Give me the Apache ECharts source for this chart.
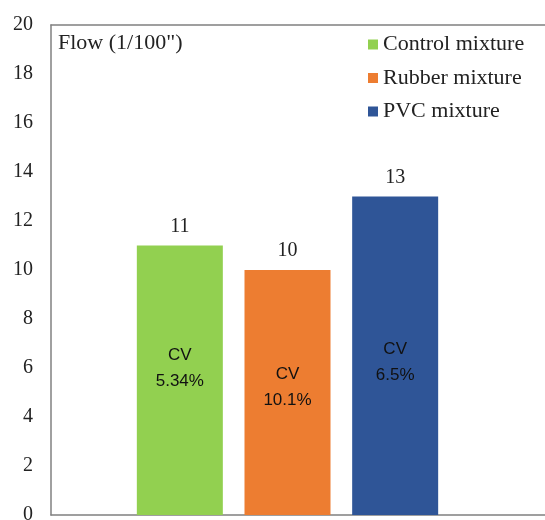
<!DOCTYPE html>
<html>
<head>
<meta charset="utf-8">
<script src="https://cdn.jsdelivr.net/npm/echarts@6/dist/echarts.min.js"></script>
<style>html,body{margin:0;padding:0;background:#fff}#c{width:545px;height:520px}</style>
</head>
<body>
<div id="c"></div>
<script>
var categories = ['Control mixture', 'Rubber mixture', 'PVC mixture'];
var flowValues = [11, 10, 13];
var cvValues = ['5.34%', '10.1%', '6.5%'];
var yTicks = { min: 0, max: 20, interval: 2 };
var axisTitle = 'Flow (1/100")';

var colors = ['#92d050', '#ed7d31', '#2f5597'];
var cvOffsets = [-12, -5, 7];
var serif = 'Liberation Serif';
var frameLine = { show: true, lineStyle: { color: '#808080', width: 1.5 } };

var series = [];
categories.forEach(function (name, i) {
  var data = categories.map(function (_, j) { return j === i ? flowValues[i] : '-'; });
  series.push({
    name: name,
    type: 'bar',
    xAxisIndex: 2,
    yAxisIndex: 1,
    stack: 'flow',
    barWidth: 86,
    barGap: '-100%',
    data: data,
    itemStyle: { color: colors[i] },
    label: {
      show: true,
      position: 'inside',
      offset: [0, cvOffsets[i]],
      formatter: 'CV\n' + cvValues[i],
      fontFamily: 'Liberation Sans',
      fontSize: 17,
      lineHeight: 26,
      color: '#111'
    }
  });
});
categories.forEach(function (name, i) {
  var data = categories.map(function (_, j) { return j === i ? flowValues[i] : '-'; });
  series.push({
    name: name + ' value',
    type: 'bar',
    xAxisIndex: 2,
    yAxisIndex: 1,
    stack: 'value',
    barWidth: 86,
    barGap: '-100%',
    silent: true,
    data: data,
    itemStyle: { color: 'rgba(0,0,0,0)' },
    label: {
      show: true,
      position: 'top',
      distance: 9,
      formatter: '{c}',
      fontFamily: serif,
      fontSize: 20,
      color: '#222'
    }
  });
});

var chart = echarts.init(document.getElementById('c'));
chart.setOption({
  animation: false,
  backgroundColor: '#fff',
  title: {
    text: axisTitle,
    left: 58,
    top: 32,
    padding: 0,
    textStyle: { fontFamily: serif, fontSize: 22, fontWeight: 'normal', color: '#222' }
  },
  legend: {
    data: categories,
    orient: 'vertical',
    left: 363,
    top: 28,
    itemWidth: 10,
    itemHeight: 10,
    itemGap: 10.5,
    icon: 'rect',
    textStyle: { fontFamily: serif, fontSize: 22, color: '#222', lineHeight: 23 }
  },
  grid: [
    { left: 51, top: 25, bottom: 5, width: 540, show: false, containLabel: false, outerBoundsMode: 'none' },
    { left: 126, top: 25, bottom: 5, width: 323, containLabel: false, outerBoundsMode: 'none' }
  ],
  xAxis: [
    { type: 'category', gridIndex: 0, position: 'bottom', data: [''], axisLine: frameLine, axisTick: { show: false }, axisLabel: { show: false } },
    { type: 'category', gridIndex: 0, position: 'top', data: [''], axisLine: frameLine, axisTick: { show: false }, axisLabel: { show: false } },
    { type: 'category', gridIndex: 1, data: categories, show: false }
  ],
  yAxis: [
    {
      type: 'value', gridIndex: 0,
      min: yTicks.min, max: yTicks.max, interval: yTicks.interval,
      axisLine: frameLine, axisTick: { show: false }, splitLine: { show: false },
      axisLabel: { margin: 18, fontFamily: serif, fontSize: 20, color: '#222' }
    },
    {
      type: 'value', gridIndex: 1,
      min: yTicks.min, max: yTicks.max, interval: yTicks.interval, show: false,
      splitLine: { show: false }
    }
  ],
  series: series
});
</script>
</body>
</html>
